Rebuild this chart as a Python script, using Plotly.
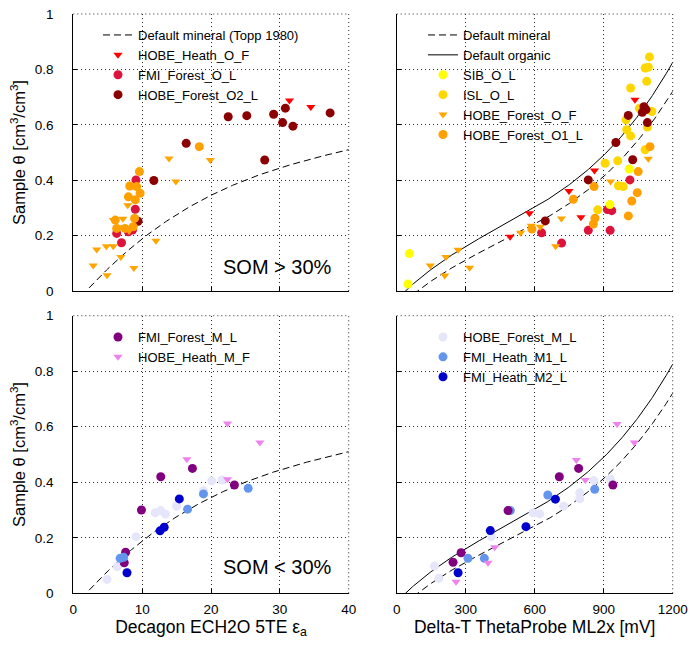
import numpy as np
import plotly.graph_objects as go

# ---------------- calibration curves ----------------
TOPP_COEFS = [-5.3e-2, 2.92e-2, -5.5e-4, 4.3e-6]      # Topp et al. (1980), theta(eps)
ML2X_POLY = [1.07, 6.4, -6.4, 4.7]                     # sqrt(eps) as polynomial of V [V]
MINERAL_A0, MINERAL_A1 = 1.6, 8.4
ORGANIC_A0, ORGANIC_A1 = 1.3, 7.7

eps_grid = np.linspace(2.3, 40, 240)
theta_topp = sum(c * eps_grid ** i for i, c in enumerate(TOPP_COEFS))
mv_grid = np.linspace(0, 1200, 300)
sqrt_eps = sum(c * (mv_grid / 1000.0) ** i for i, c in enumerate(ML2X_POLY))
theta_mineral = (sqrt_eps - MINERAL_A0) / MINERAL_A1
theta_organic = (sqrt_eps - ORGANIC_A0) / ORGANIC_A1

# ---------------- organic samples (SOM > 30%) ----------------
# Decagon 5TE apparent permittivity
hobe_heath_o_f_eps = [31.4, 34.5]
hobe_heath_o_f_eps_theta = [0.688, 0.664]
fmi_forest_o_l_eps = [9.1, 9.0, 8.6, 8.0, 6.3, 7.0]
fmi_forest_o_l_eps_theta = [0.401, 0.295, 0.220, 0.214, 0.208, 0.174]
hobe_forest_o2_l_eps = [22.5, 25.2, 29.1, 30.8, 30.4, 31.9, 37.3, 27.8, 16.4, 11.7, 9.4]
hobe_forest_o2_l_eps_theta = [0.629, 0.633, 0.638, 0.660, 0.608, 0.595, 0.643, 0.473, 0.533, 0.399, 0.252]
hobe_forest_o_f_eps = [13.9, 14.9, 19.9, 12.0, 8.8, 4.9, 2.9, 3.4, 4.8, 5.8, 6.9, 8.1, 7.9, 5.8, 7.2, 6.5]
hobe_forest_o_f_eps_theta = [0.478, 0.395, 0.473, 0.181, 0.083, 0.057, 0.092, 0.150, 0.162, 0.162,
                             0.123, 0.217, 0.310, 0.256, 0.261, 0.230]
hobe_forest_o1_l_eps = [9.6, 8.2, 9.2, 9.7, 8.0, 9.0, 6.1, 6.3, 7.5, 8.7, 8.9, 18.3]
hobe_forest_o1_l_eps_theta = [0.431, 0.379, 0.377, 0.353, 0.340, 0.329, 0.256, 0.226, 0.226, 0.232, 0.262, 0.521]

# Delta-T ML2x output [mV]
hobe_heath_o_f_mv = [1036, 860, 749, 577, 493, 801]
hobe_heath_o_f_mv_theta = [0.690, 0.435, 0.361, 0.281, 0.196, 0.266]
fmi_forest_o_l_mv = [630, 717, 833, 928, 916, 935, 1014]
fmi_forest_o_l_mv_theta = [0.210, 0.173, 0.219, 0.219, 0.294, 0.290, 0.401]
hobe_forest_o2_l_mv = [1007, 1084, 1068, 1090, 1075, 953, 1026, 833, 646]
hobe_forest_o2_l_mv_theta = [0.634, 0.655, 0.645, 0.608, 0.665, 0.536, 0.474, 0.401, 0.253]
sib_o_l_mv = [55, 49, 1011, 927]
sib_o_l_mv_theta = [0.135, 0.025, 0.440, 0.312]
isl_o_l_mv = [1099, 1080, 1094, 1087, 1017, 1055, 1109, 997, 1017, 1000, 1090, 1080, 906, 961, 964, 985, 874]
isl_o_l_mv_theta = [0.845, 0.805, 0.808, 0.757, 0.733, 0.660, 0.648, 0.618, 0.560, 0.582, 0.592, 0.510,
                    0.461, 0.470, 0.380, 0.377, 0.293]
hobe_forest_o_f_mv = [146, 214, 267, 209, 317, 539, 585, 624, 716, 691, 930, 1094]
hobe_forest_o_f_mv_theta = [0.092, 0.123, 0.149, 0.056, 0.084, 0.210, 0.236, 0.232, 0.262, 0.162, 0.395, 0.477]
hobe_forest_o1_l_mv = [1101, 1050, 1046, 1022, 1007, 858, 768, 862, 855, 588]
hobe_forest_o1_l_mv_theta = [0.521, 0.431, 0.355, 0.325, 0.271, 0.377, 0.331, 0.263, 0.242, 0.224]

# ---------------- mineral samples (SOM < 30%) ----------------
fmi_forest_m_l_eps = [9.9, 12.7, 17.3, 23.4, 7.6, 7.4]
fmi_forest_m_l_eps_theta = [0.300, 0.420, 0.450, 0.390, 0.148, 0.110]
hobe_heath_m_f_eps = [22.4, 27.1, 16.5, 22.4]
hobe_heath_m_f_eps_theta = [0.612, 0.543, 0.483, 0.411]
hobe_forest_m_l_eps = [4.9, 6.4, 9.1, 11.9, 12.7, 13.4, 15.0, 18.9, 20.1, 21.6]
hobe_forest_m_l_eps_theta = [0.050, 0.096, 0.204, 0.290, 0.298, 0.285, 0.314, 0.370, 0.405, 0.408]
fmi_heath_m1_l_eps = [6.8, 7.3, 16.6, 18.9, 25.4]
fmi_heath_m1_l_eps_theta = [0.126, 0.130, 0.303, 0.358, 0.378]
fmi_heath_m2_l_eps = [7.8, 12.6, 13.2, 15.4]
fmi_heath_m2_l_eps_theta = [0.074, 0.225, 0.238, 0.340]

fmi_forest_m_l_mv = [280, 245, 484, 707, 791, 940]
fmi_forest_m_l_mv_theta = [0.146, 0.112, 0.298, 0.420, 0.450, 0.390]
hobe_heath_m_f_mv = [958, 1033, 781, 820, 426, 397, 258]
hobe_heath_m_f_mv_theta = [0.610, 0.543, 0.480, 0.408, 0.166, 0.110, 0.042]
hobe_forest_m_l_mv = [164, 183, 411, 593, 622, 726, 796, 857, 929, 796]
hobe_forest_m_l_mv_theta = [0.098, 0.054, 0.204, 0.290, 0.286, 0.314, 0.362, 0.406, 0.411, 0.340]
fmi_heath_m1_l_mv = [310, 381, 494, 657, 861]
fmi_heath_m1_l_mv_theta = [0.126, 0.126, 0.298, 0.354, 0.375]
fmi_heath_m2_l_mv = [267, 407, 562, 690]
fmi_heath_m2_l_mv_theta = [0.074, 0.226, 0.240, 0.339]

# ---------------- styles ----------------
STYLE = {
    "HOBE_Heath_O_F": ("#FF0000", "triangle-down"),
    "FMI_Forest_O_L": ("#DC143C", "circle"),
    "HOBE_Forest_O2_L": ("#8B0000", "circle"),
    "SIB_O_L": ("#FFFF00", "circle"),
    "ISL_O_L": ("#FFD700", "circle"),
    "HOBE_Forest_O_F": ("#FFA500", "triangle-down"),
    "HOBE_Forest_O1_L": ("#FFA000", "circle"),
    "FMI_Forest_M_L": ("#800080", "circle"),
    "HOBE_Heath_M_F": ("#EE82EE", "triangle-down"),
    "HOBE_Forest_M_L": ("#E6E6FA", "circle"),
    "FMI_Heath_M1_L": ("#6495ED", "circle"),
    "FMI_Heath_M2_L": ("#0000CD", "circle"),
}
FONT = "Liberation Sans, Arial, Helvetica, sans-serif"
W, H = 691, 645

fig = go.Figure()


def curve(x, y, name, dash, xa, ya, legend=None):
    fig.add_trace(go.Scatter(
        x=x, y=y, mode="lines", name=name, xaxis=xa, yaxis=ya,
        line=dict(color="black", width=1, dash=dash),
        showlegend=legend is not None, legend=legend or "legend", hoverinfo="skip"))


def points(x, y, name, xa, ya, legend=None):
    color, symbol = STYLE[name]
    fig.add_trace(go.Scatter(
        x=x, y=y, mode="markers", name=name, xaxis=xa, yaxis=ya,
        marker=dict(color=color, symbol=symbol, size=9 if symbol == "circle" else 8,
                    line=dict(width=0)),
        showlegend=legend is not None, legend=legend or "legend"))


DASH = "7px,4px"

# top-left: organic, 5TE
curve(eps_grid, theta_topp, "Default mineral (Topp 1980)", DASH, "x", "y", "legend")
points(hobe_heath_o_f_eps, hobe_heath_o_f_eps_theta, "HOBE_Heath_O_F", "x", "y", "legend")
points(fmi_forest_o_l_eps, fmi_forest_o_l_eps_theta, "FMI_Forest_O_L", "x", "y", "legend")
points(hobe_forest_o2_l_eps, hobe_forest_o2_l_eps_theta, "HOBE_Forest_O2_L", "x", "y", "legend")
points(hobe_forest_o_f_eps, hobe_forest_o_f_eps_theta, "HOBE_Forest_O_F", "x", "y")
points(hobe_forest_o1_l_eps, hobe_forest_o1_l_eps_theta, "HOBE_Forest_O1_L", "x", "y")

# top-right: organic, ML2x
curve(mv_grid, theta_mineral, "Default mineral", DASH, "x2", "y2", "legend2")
curve(mv_grid, theta_organic, "Default organic", "solid", "x2", "y2", "legend2")
points(hobe_heath_o_f_mv, hobe_heath_o_f_mv_theta, "HOBE_Heath_O_F", "x2", "y2")
points(fmi_forest_o_l_mv, fmi_forest_o_l_mv_theta, "FMI_Forest_O_L", "x2", "y2")
points(sib_o_l_mv, sib_o_l_mv_theta, "SIB_O_L", "x2", "y2", "legend2")
points(isl_o_l_mv, isl_o_l_mv_theta, "ISL_O_L", "x2", "y2", "legend2")
points(hobe_forest_o_f_mv, hobe_forest_o_f_mv_theta, "HOBE_Forest_O_F", "x2", "y2", "legend2")
points(hobe_forest_o1_l_mv, hobe_forest_o1_l_mv_theta, "HOBE_Forest_O1_L", "x2", "y2", "legend2")
points(hobe_forest_o2_l_mv, hobe_forest_o2_l_mv_theta, "HOBE_Forest_O2_L", "x2", "y2")

# bottom-left: mineral, 5TE
curve(eps_grid, theta_topp, "Default mineral (Topp 1980)", DASH, "x3", "y3")
points(hobe_forest_m_l_eps, hobe_forest_m_l_eps_theta, "HOBE_Forest_M_L", "x3", "y3")
points(fmi_forest_m_l_eps, fmi_forest_m_l_eps_theta, "FMI_Forest_M_L", "x3", "y3", "legend3")
points(hobe_heath_m_f_eps, hobe_heath_m_f_eps_theta, "HOBE_Heath_M_F", "x3", "y3", "legend3")
points(fmi_heath_m1_l_eps, fmi_heath_m1_l_eps_theta, "FMI_Heath_M1_L", "x3", "y3")
points(fmi_heath_m2_l_eps, fmi_heath_m2_l_eps_theta, "FMI_Heath_M2_L", "x3", "y3")

# bottom-right: mineral, ML2x
curve(mv_grid, theta_mineral, "Default mineral", DASH, "x4", "y4")
curve(mv_grid, theta_organic, "Default organic", "solid", "x4", "y4")
points(hobe_forest_m_l_mv, hobe_forest_m_l_mv_theta, "HOBE_Forest_M_L", "x4", "y4", "legend4")
points(fmi_heath_m1_l_mv, fmi_heath_m1_l_mv_theta, "FMI_Heath_M1_L", "x4", "y4", "legend4")
points(fmi_heath_m2_l_mv, fmi_heath_m2_l_mv_theta, "FMI_Heath_M2_L", "x4", "y4", "legend4")
points(hobe_heath_m_f_mv, hobe_heath_m_f_mv_theta, "HOBE_Heath_M_F", "x4", "y4")
points(fmi_forest_m_l_mv, fmi_forest_m_l_mv_theta, "FMI_Forest_M_L", "x4", "y4")

# ---------------- layout ----------------
LEFT_X = [73.3 / W, 348.7 / W]
RIGHT_X = [396.7 / W, 672.7 / W]
TOP_Y = [1 - 291.0 / H, 1 - 14.0 / H]
BOT_Y = [1 - 593.3 / H, 1 - 315.7 / H]

axis_common = dict(
    showline=True, linecolor="black", linewidth=1, mirror=False,
    ticks="inside", ticklen=4, tickwidth=1, tickcolor="black",
    showgrid=True, gridcolor="#2a2a2a", gridwidth=1, griddash="1px,3px",
    zeroline=False, automargin=False,
    tickfont=dict(family=FONT, size=13.5, color="black"),
)
Y_TITLE = dict(text="Sample θ [cm<sup>3</sup>/cm<sup>3</sup>]", font=dict(family=FONT, size=16.5, color="black"), standoff=5)


def xax(domain, anchor, rng, dtick, labels, title=None):
    d = dict(axis_common, domain=domain, anchor=anchor, range=rng, dtick=dtick,
             tick0=0, showticklabels=labels, ticklabelstandoff=3)
    if title:
        d["title"] = dict(text=title, font=dict(family=FONT, size=17.5, color="black"), standoff=3)
    return d


def yax(domain, anchor, labels):
    d = dict(axis_common, domain=domain, anchor=anchor, range=[0, 1], dtick=0.2,
             tick0=0, showticklabels=labels, ticklabelstandoff=16)
    if labels:
        d["title"] = Y_TITLE
    return d


legend_common = dict(bgcolor="rgba(0,0,0,0)", borderwidth=0, xanchor="left", yanchor="top",
                     font=dict(family=FONT, size=13, color="black"), traceorder="normal")

fig.update_layout(
    width=W, height=H, autosize=False,
    margin=dict(l=0, r=0, t=0, b=0, pad=0, autoexpand=False),
    paper_bgcolor="white", plot_bgcolor="white",
    font=dict(family=FONT, color="black"),
    xaxis=xax(LEFT_X, "y", [0, 40], 10, False),
    yaxis=yax(TOP_Y, "x", True),
    xaxis2=xax(RIGHT_X, "y2", [0, 1200], 300, False),
    yaxis2=yax(TOP_Y, "x2", False),
    xaxis3=xax(LEFT_X, "y3", [0, 40], 10, True, "Decagon ECH2O 5TE ε<sub>a</sub>"),
    yaxis3=yax(BOT_Y, "x3", True),
    xaxis4=xax(RIGHT_X, "y4", [0, 1200], 300, True, "Delta-T ThetaProbe ML2x [mV]"),
    yaxis4=yax(BOT_Y, "x4", False),
    legend=dict(legend_common, x=98 / W, y=1 - 20 / H),
    legend2=dict(legend_common, x=423 / W, y=1 - 20 / H),
    legend3=dict(legend_common, x=98 / W, y=1 - 322 / H),
    legend4=dict(legend_common, x=423 / W, y=1 - 322 / H),
    showlegend=True,
)

# dotted frame on top and right edges of each panel (MATLAB grid, box off)
for xa, ya in [("x", "y"), ("x2", "y2"), ("x3", "y3"), ("x4", "y4")]:
    dot = dict(color="#2a2a2a", width=1, dash="1px,3px")
    fig.add_shape(type="line", xref=f"{xa} domain", yref=f"{ya} domain",
                  x0=0, x1=1, y0=1, y1=1, line=dot, layer="below")
    fig.add_shape(type="line", xref=f"{xa} domain", yref=f"{ya} domain",
                  x0=1, x1=1, y0=0, y1=1, line=dot, layer="below")

fig.add_annotation(text="SOM > 30%", xref="paper", yref="paper", x=277.5 / W, y=1 - 266.7 / H,
                   xanchor="center", yanchor="middle",
                   showarrow=False, font=dict(family=FONT, size=20, color="black"))
fig.add_annotation(text="SOM < 30%", xref="paper", yref="paper", x=277.5 / W, y=1 - 566.7 / H,
                   xanchor="center", yanchor="middle",
                   showarrow=False, font=dict(family=FONT, size=20, color="black"))

fig.write_html("out.html")
